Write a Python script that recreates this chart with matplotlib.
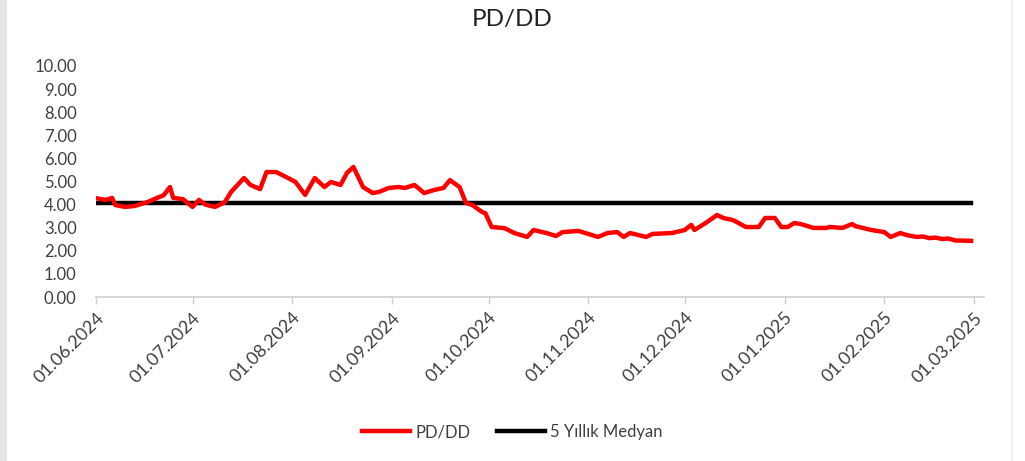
import matplotlib
matplotlib.use("Agg")
import matplotlib.pyplot as plt
import pandas as pd
from matplotlib.patches import Rectangle

plt.rcParams['font.family'] = ['Lato', 'DejaVu Sans']

dates = [
    "2024-06-01", "2024-06-04", "2024-06-06", "2024-06-07", "2024-06-10", "2024-06-13",
    "2024-06-17", "2024-06-20", "2024-06-22", "2024-06-24", "2024-06-25", "2024-06-28",
    "2024-07-01", "2024-07-03", "2024-07-05", "2024-07-08", "2024-07-11", "2024-07-13",
    "2024-07-17", "2024-07-19", "2024-07-22", "2024-07-24", "2024-07-27", "2024-07-30",
    "2024-08-02", "2024-08-05", "2024-08-08", "2024-08-11", "2024-08-13", "2024-08-16",
    "2024-08-18", "2024-08-20", "2024-08-23", "2024-08-26", "2024-08-28", "2024-08-31",
    "2024-09-03", "2024-09-05", "2024-09-08", "2024-09-11", "2024-09-14", "2024-09-17",
    "2024-09-19", "2024-09-22", "2024-09-24", "2024-09-26", "2024-09-29", "2024-09-30",
    "2024-10-02", "2024-10-06", "2024-10-09", "2024-10-13", "2024-10-15", "2024-10-19",
    "2024-10-22", "2024-10-24", "2024-10-29", "2024-11-04", "2024-11-07", "2024-11-10",
    "2024-11-12", "2024-11-14", "2024-11-19", "2024-11-21", "2024-11-27", "2024-12-01",
    "2024-12-03", "2024-12-04", "2024-12-08", "2024-12-11", "2024-12-13", "2024-12-16",
    "2024-12-20", "2024-12-24", "2024-12-26", "2024-12-29", "2024-12-31", "2025-01-02",
    "2025-01-04", "2025-01-06", "2025-01-10", "2025-01-14", "2025-01-15", "2025-01-19",
    "2025-01-22", "2025-01-23", "2025-01-28", "2025-02-01", "2025-02-03", "2025-02-06",
    "2025-02-08", "2025-02-11", "2025-02-13", "2025-02-15", "2025-02-17", "2025-02-19",
    "2025-02-21", "2025-02-23", "2025-02-28",
]
pd_dd = [
    4.28, 4.20, 4.29, 3.98, 3.90, 3.94,
    4.11, 4.29, 4.40, 4.76, 4.29, 4.24,
    3.90, 4.20, 4.00, 3.90, 4.10, 4.55,
    5.15, 4.85, 4.67, 5.41, 5.41, 5.20,
    4.98, 4.42, 5.15, 4.76, 4.98, 4.85,
    5.37, 5.63, 4.76, 4.50, 4.55, 4.72,
    4.76, 4.72, 4.85, 4.50, 4.63, 4.72,
    5.06, 4.76, 4.07, 3.98, 3.68, 3.63,
    3.03, 2.98, 2.77, 2.60, 2.90, 2.77,
    2.64, 2.81, 2.86, 2.60, 2.77, 2.81,
    2.60, 2.77, 2.60, 2.73, 2.77, 2.90,
    3.12, 2.90, 3.25, 3.55, 3.42, 3.33,
    3.03, 3.03, 3.42, 3.42, 3.03, 3.03,
    3.20, 3.16, 2.99, 2.99, 3.03, 2.99,
    3.16, 3.07, 2.90, 2.81, 2.60, 2.77,
    2.68, 2.60, 2.62, 2.55, 2.57, 2.51,
    2.53, 2.45, 2.43,
]
median_5y = 4.05

tick_dates = ["2024-06-01", "2024-07-01", "2024-08-01", "2024-09-01", "2024-10-01",
              "2024-11-01", "2024-12-01", "2025-01-01", "2025-02-01", "2025-03-01"]
y_ticks = [0, 1, 2, 3, 4, 5, 6, 7, 8, 9, 10]

x = pd.to_datetime(dates)
xt = pd.to_datetime(tick_dates)

fig = plt.figure(figsize=(10.25, 4.61), dpi=100)
fig.patches.append(Rectangle((0, 0), 7 / 1025, 1, transform=fig.transFigure,
                             facecolor="#e6e6e6", edgecolor="none", zorder=0))
fig.patches.append(Rectangle((1011 / 1025, 0), 2 / 1025, 1, transform=fig.transFigure,
                             facecolor="#f2f2f2", edgecolor="none", zorder=0))

ax = fig.add_axes([96 / 1025, 1 - 297 / 461, (984 - 96) / 1025, (297 - 66) / 461])

ax.plot(x, pd_dd, color="#ff0000", lw=3.2, solid_joinstyle="round", label="PD/DD", zorder=3)
ax.plot([x[0], x[-1]], [median_5y, median_5y], color="black", lw=3.2,
        label="5 Yıllık Medyan", zorder=2)

ax.set_ylim(0, 10)
ax.set_xlim(pd.Timestamp("2024-06-01"), pd.Timestamp("2025-03-04"))
ax.set_yticks(y_ticks)
ax.set_yticklabels([f"{v:.2f}" for v in y_ticks])
ax.set_xticks(xt)
ax.set_xticklabels([d.strftime("%d.%m.%Y") for d in xt], rotation=45,
                   ha="right", va="top", rotation_mode="anchor")

for s in ["top", "right", "left"]:
    ax.spines[s].set_visible(False)
ax.spines["bottom"].set_color("#d0d0d0")
ax.spines["bottom"].set_linewidth(1.2)
ax.tick_params(axis="y", length=0, labelsize=12, colors="#404040", pad=14)
ax.tick_params(axis="x", length=5, width=1, color="#d0d0d0", labelsize=13,
               labelcolor="#404040", pad=4)

fig.suptitle("PD/DD", x=0.5, y=0.98, fontsize=17.5, color="#222222")

fig.legend(loc="center", bbox_to_anchor=(0.5, 1 - 432 / 461), ncol=2, frameon=False,
           fontsize=12, handlelength=2.9, columnspacing=1.6, handletextpad=0.3,
           labelcolor="#404040")

fig.savefig("out.png", dpi=100)
